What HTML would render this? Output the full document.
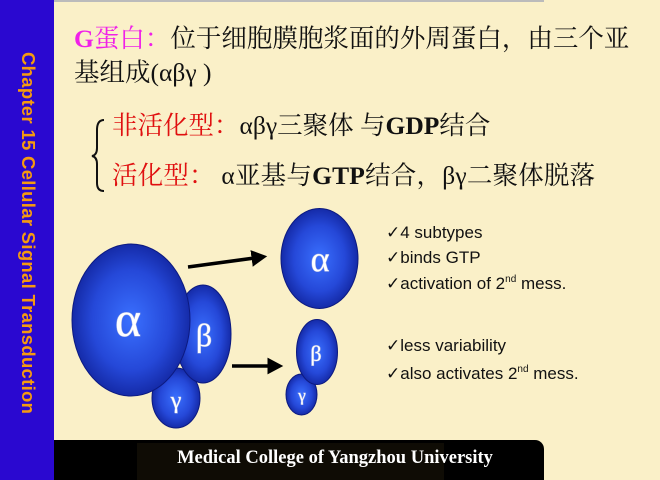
<!DOCTYPE html>
<html><head><meta charset="utf-8"><style>
*{margin:0;padding:0}
body{width:660px;height:480px;position:relative;overflow:hidden;background:#faf0c8;font-family:"Liberation Serif","Noto Serif CJK SC",serif}
.t{position:absolute;white-space:nowrap;line-height:1}
.s{font-family:"Liberation Sans",sans-serif;font-size:17px;color:#111}
sup{font-size:10px;vertical-align:7px}
</style></head><body>
<div style="position:absolute;left:0;top:0;width:54px;height:480px;background:#2a08d0"></div>
<div style="position:absolute;left:54px;top:0;width:490px;height:2px;background:#bbb"></div>
<div class="t" style="left:27px;top:52px;transform-origin:0 0;transform:rotate(90deg) translate(0,-10px);font-family:'Liberation Sans',sans-serif;font-weight:bold;font-size:18.5px;color:#f59a10;letter-spacing:0.3px">Chapter 15 Cellular Signal Transduction</div>

<div class="t" style="left:74px;top:26px;font-size:25.5px;color:#111"><span style="color:#f020e8;font-weight:bold">G</span><span style="color:#f020e8">蛋白：</span>位于细胞膜胞浆面的外周蛋白，由三个亚</div>
<div class="t" style="left:74px;top:60px;font-size:25.5px;color:#111">基组成(αβγ )</div>
<div class="t" style="left:112px;top:113px;font-size:25.5px;color:#111"><span style="color:#e01010">非活化型：</span>αβγ三聚体 与<b>GDP</b>结合</div>
<div class="t" style="left:112px;top:163px;font-size:25.5px;color:#111;letter-spacing:0.2px"><span style="color:#e01010">活化型：</span> α亚基与<b>GTP</b>结合，βγ二聚体脱落</div>
<svg style="position:absolute;left:0;top:0" width="660" height="480">
<defs>
<radialGradient id="g" cx="50%" cy="50%" r="55%"><stop offset="0" stop-color="#3a70ff"/><stop offset="0.6" stop-color="#2548d8"/><stop offset="1" stop-color="#10229a"/></radialGradient>
<marker id="a" markerWidth="6" markerHeight="6" refX="3" refY="3" orient="auto" markerUnits="strokeWidth"><path d="M0,0.6 L4.5,3 L0,5.4z" fill="#000"/></marker>
</defs>
<path d="M104,120 Q97,120 97,130 L97,148 Q97,155 92,156 Q97,157 97,164 L97,183 Q97,191 104,191" fill="none" stroke="#111" stroke-width="2"/>
<g stroke="#0c1a80" stroke-width="1" fill="url(#g)">
<ellipse cx="176" cy="398" rx="24" ry="30"/>
<ellipse cx="203" cy="334" rx="28" ry="49"/>
<ellipse cx="131" cy="320" rx="59" ry="76"/>
<ellipse cx="319.5" cy="258.5" rx="38.5" ry="50"/>
<ellipse cx="301.5" cy="394.5" rx="15.5" ry="20.5"/>
<ellipse cx="317" cy="352" rx="20.5" ry="32.5"/>
</g>
<g fill="#fff" style="font-family:'Liberation Serif','DejaVu Serif',serif;paint-order:stroke" text-anchor="middle" stroke="#9aa8e0" stroke-width="1">
<text x="128" y="336" font-size="50">α</text>
<text x="204" y="346" font-size="32">β</text>
<text x="176" y="408" font-size="24">γ</text>
<text x="320" y="271" font-size="36">α</text>
<text x="316" y="361" font-size="22">β</text>
<text x="302" y="401" font-size="17">γ</text>
</g>
<line x1="188" y1="267" x2="262" y2="257" stroke="#000" stroke-width="3.5" marker-end="url(#a)"/>
<line x1="232" y1="366" x2="278" y2="366" stroke="#000" stroke-width="3.5" marker-end="url(#a)"/>
</svg>
<div class="t s" style="left:386px;top:224px">✓4 subtypes</div>
<div class="t s" style="left:386px;top:249px">✓binds GTP</div>
<div class="t s" style="left:386px;top:275px">✓activation of 2<sup>nd</sup> mess.</div>
<div class="t s" style="left:386px;top:337px">✓less variability</div>
<div class="t s" style="left:386px;top:365px">✓also activates 2<sup>nd</sup> mess.</div>

<div style="position:absolute;left:54px;top:440px;width:490px;height:40px;background:#000;border-top-right-radius:9px"></div>
<div style="position:absolute;left:137px;top:443px;width:307px;height:37px;background:#0f0c05"></div>
<div class="t" style="left:0;width:670px;text-align:center;top:449px;color:#fff;font-weight:bold;font-size:18.5px">Medical College of Yangzhou University</div>
</body></html>
